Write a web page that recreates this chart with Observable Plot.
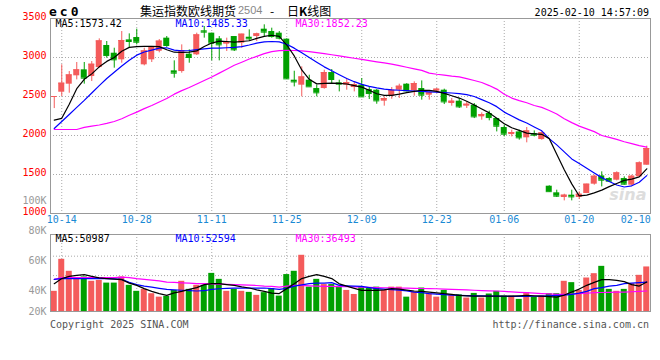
<!DOCTYPE html>
<html><head><meta charset="utf-8">
<script src="https://cdn.jsdelivr.net/npm/d3@7"></script>
<script src="https://cdn.jsdelivr.net/npm/@observablehq/plot@0.6"></script>
<style>
html,body{margin:0;padding:0;background:#fff;}
#wrap{position:relative;width:660px;height:360px;overflow:hidden;background:#fff;font-family:"DejaVu Sans Mono",monospace;}
.abs{position:absolute;white-space:pre;line-height:1;}
#price,#vol{position:absolute;left:0;}
#price{top:0;} #vol{top:227px;}
</style></head><body><div id="wrap">
<div class="abs" style="left:49px;top:4px;font:bold 13px 'DejaVu Sans Mono';letter-spacing:3px;">ec0</div>
<div class="abs" style="left:140px;top:2px;font:12px 'Noto Sans CJK SC';">集运指数欧线期货</div>
<div class="abs" style="left:238px;top:4px;font:11px 'Liberation Sans';color:#888;">2504</div>
<div class="abs" style="left:270px;top:2px;font:12px 'Noto Sans CJK SC';">-</div>
<div class="abs" style="left:287px;top:2px;font:12px 'Noto Sans CJK SC';">日<b>K</b>线图</div>
<div class="abs" style="right:11px;top:7px;font:10px 'DejaVu Sans Mono';">2025-02-10 14:57:09</div>
<div id="price"></div>
<div id="vol"></div>
<div class="abs" style="left:50px;top:319px;font:10px 'DejaVu Sans Mono';color:#555;">Copyright 2025 SINA.COM</div>
<div class="abs" style="right:11px;top:319px;font:10px 'DejaVu Sans Mono';color:#555;">http://finance.sina.com.cn</div>
</div>
<script>
const dates = ["2024-10-11","2024-10-14","2024-10-15","2024-10-16","2024-10-17","2024-10-18","2024-10-21","2024-10-22","2024-10-23","2024-10-24","2024-10-25","2024-10-28","2024-10-29","2024-10-30","2024-10-31",
"2024-11-01","2024-11-04","2024-11-05","2024-11-06","2024-11-07","2024-11-08","2024-11-11","2024-11-12","2024-11-13","2024-11-14","2024-11-15","2024-11-18","2024-11-19","2024-11-20","2024-11-21","2024-11-22","2024-11-25","2024-11-26","2024-11-27","2024-11-28","2024-11-29",
"2024-12-02","2024-12-03","2024-12-04","2024-12-05","2024-12-06","2024-12-09","2024-12-10","2024-12-11","2024-12-12","2024-12-13","2024-12-16","2024-12-17","2024-12-18","2024-12-19","2024-12-20","2024-12-23","2024-12-24","2024-12-25","2024-12-26","2024-12-27","2024-12-30","2024-12-31",
"2025-01-02","2025-01-03","2025-01-06","2025-01-07","2025-01-08","2025-01-09","2025-01-10","2025-01-13","2025-01-14","2025-01-15","2025-01-16","2025-01-17","2025-01-20","2025-01-21","2025-01-22","2025-01-23","2025-01-24","2025-01-27",
"2025-02-05","2025-02-06","2025-02-07","2025-02-10"];
const open  = [2500,2555,2658,2765,2842,2756,2871,3154,3055,2970,3226,3256,2906,2970,3080,3248,2829,2820,3042,3034,3342,3312,3239,3171,3269,3184,3260,3269,3363,3333,3312,3235,2709,2645,2709,2602,2602,2807,2675,2645,2615,2645,2589,2581,2440,2504,2581,2658,2572,2602,2517,2568,2581,2410,2440,2376,2388,2239,2282,2218,2102,2012,2046,1970,2025,1948,1350,1265,1205,1235,1205,1256,1376,1482,1448,1427,1448,1363,1470,1619];
const high  = [2500,2906,2820,2936,2936,2948,3239,3205,3119,3333,3303,3363,3119,3141,3230,3269,2957,3162,3098,3312,3397,3312,3269,3248,3269,3299,3354,3312,3419,3376,3333,3240,2824,2880,2773,2645,2837,2846,2709,2730,2688,2730,2624,2589,2495,2615,2658,2665,2688,2700,2559,2602,2594,2474,2474,2431,2410,2290,2312,2218,2132,2068,2068,2102,2059,2047,1355,1299,1247,1299,1277,1376,1491,1534,1460,1534,1470,1491,1662,1863];
const low   = [2345,2500,2542,2713,2658,2692,2863,2991,2863,2927,3119,3162,2893,2936,3060,3130,2735,2799,2927,3025,3248,2957,2957,3077,3077,3119,3205,3205,3269,3248,3226,2720,2623,2495,2624,2495,2594,2666,2559,2581,2559,2495,2461,2401,2376,2465,2474,2559,2504,2453,2453,2538,2397,2376,2346,2346,2217,2196,2188,2046,1982,1982,1940,1906,1982,1940,1275,1205,1162,1162,1179,1256,1363,1341,1405,1418,1363,1350,1470,1619];
const close = [2500,2671,2777,2842,2735,2914,3213,3025,2970,3218,3205,3196,3085,3141,3210,3154,2799,3089,3000,3290,3325,3184,3162,3192,3098,3299,3239,3303,3325,3269,3248,2726,2687,2751,2624,2547,2807,2718,2658,2679,2653,2495,2538,2444,2474,2581,2632,2572,2666,2517,2547,2594,2431,2440,2367,2401,2239,2269,2230,2119,2017,2038,1970,2059,2004,2034,1280,1222,1235,1213,1247,1376,1478,1427,1414,1521,1376,1478,1649,1833];
const ma5  = [2198,2220,2400,2600,2720,2790,2880,2950,3000,3080,3130,3140,3142,3142,3140,3100,3068,3064,3070,3085,3140,3185,3210,3205,3196,3205,3215,3245,3270,3285,3270,3160,3020,2840,2720,2662,2668,2672,2668,2660,2640,2620,2580,2535,2515,2515,2530,2550,2565,2580,2578,2565,2540,2510,2480,2440,2390,2340,2290,2220,2150,2100,2065,2030,2022,2015,1960,1760,1560,1380,1225,1235,1265,1300,1345,1385,1425,1440,1470,1573];
const ma10 = [2090,2180,2270,2360,2450,2545,2640,2730,2810,2890,2965,3030,3070,3095,3120,3125,3095,3085,3090,3100,3110,3120,3120,3125,3130,3140,3160,3185,3200,3205,3200,3170,3120,3060,3000,2940,2880,2830,2780,2730,2690,2655,2630,2610,2595,2585,2580,2575,2570,2565,2560,2555,2550,2545,2538,2525,2500,2460,2420,2370,2300,2250,2200,2160,2110,2060,1960,1880,1790,1700,1640,1580,1520,1460,1410,1365,1340,1355,1400,1485];
const ma30 = [2077,2077,2077,2077,2105,2120,2135,2155,2180,2215,2260,2300,2345,2385,2430,2475,2530,2575,2615,2660,2705,2750,2800,2850,2900,2940,2980,3015,3050,3075,3088,3092,3090,3086,3075,3062,3050,3035,3020,3005,2990,2975,2960,2945,2930,2915,2895,2875,2855,2835,2800,2785,2775,2762,2752,2730,2705,2680,2640,2595,2530,2480,2448,2420,2385,2360,2320,2275,2215,2165,2120,2085,2050,2000,1975,1950,1920,1895,1870,1852];
const vol  = [39500,60900,52900,48000,49100,46200,46800,45000,45000,49100,43500,39500,40800,37900,35600,36100,40100,46200,40800,43500,43500,51500,47500,39500,40800,39500,38800,36800,38600,41300,36300,50700,52900,63600,42300,47500,44000,44000,42800,40100,37400,42300,41700,42300,40100,42300,42300,35600,39000,41700,37900,35600,40100,37200,37200,35000,38100,35000,37700,39500,36300,36300,34100,38600,35600,36300,37900,37900,46200,45300,40100,48400,51300,56200,40800,39500,40800,44600,50200,55800];
const vma5  = [44600,48000,49500,50200,50700,49500,48500,48000,47600,47300,45000,43500,41300,39500,38000,36800,38500,39500,40800,42000,44000,44600,44600,44000,43500,42500,41700,40500,39500,38300,38000,41300,44500,48000,49500,50700,49500,48000,44500,43000,41500,40100,40100,40100,40500,41300,41000,40300,39700,39500,39000,38500,37900,37500,36800,36500,36300,36300,36300,36300,36300,36300,36500,36800,36500,36300,36000,35600,37000,39000,41000,43500,45500,47300,47300,46800,46000,44000,43000,45700];
const vma10 = [47500,48000,48000,48000,48000,48000,48000,48000,47800,47500,45500,44000,43000,42300,41500,40800,40500,40200,40000,39700,39900,40800,41200,41500,41700,41700,41700,41700,41700,41300,40800,41500,43000,43800,44600,45000,45000,45300,43500,43200,43000,42800,42000,41300,41000,40600,40300,39800,39000,38600,37900,37600,37300,37000,36800,36600,36500,36400,36300,36300,36200,36100,36100,36100,36200,36300,36500,36800,37000,37500,38300,39500,41300,42000,43000,43500,44600,45000,45300,45700];
const vma30 = [47500,48700,48700,48700,48700,48700,48700,48700,48700,49000,48700,48000,47500,47000,46500,45700,45500,45200,45000,44600,44600,44500,44300,44200,44000,43800,43600,43400,43000,42800,42300,43000,43500,43500,43200,43000,42800,42800,42700,42600,42500,42300,42200,42000,41900,41800,41700,41600,41500,41400,41300,41200,41000,40800,40600,40400,40200,40000,39800,39700,39400,39100,38800,38600,38300,38000,37800,37500,37500,37700,37900,38200,38600,38700,38800,38900,39000,39200,39500,39700];
const priceTicks = [1000,1500,2000,2500,3000,3500];
const priceGrid = [1500,2000,2500,3000];
const volTicks = [20000,40000,60000,80000,100000];
const volGrid = [50000,63000];
const gridDates = ["2024-10-14","2024-10-28","2024-11-11","2024-11-25","2024-12-09","2024-12-23","2025-01-06","2025-01-20"];
const lastDate = "2025-02-10";
const priceLabels = ["MA5:1573.42","MA10:1485.33","MA30:1852.23"];
const volLabels = ["MA5:50987","MA10:52594","MA30:36493"];

const RED = "#f45b5b", GREEN = "#00a000";
const rows = dates.map((d,i)=>({date:d, open:open[i], high:high[i], low:low[i], close:close[i],
  ma5:ma5[i], ma10:ma10[i], ma30:ma30[i], vol:vol[i], vma5:vma5[i], vma10:vma10[i], vma30:vma30[i]}));
const col = d => d.close >= d.open ? RED : GREEN;
const mono = "DejaVu Sans Mono";
const xScale = {type:"band", domain:dates, paddingInner:0.2, paddingOuter:0.1, axis:null};
const dot = {stroke:"#aaa", strokeDasharray:"1,2"};
const maColors = ["#000","#0000ff","#ff00ff"];
const labelOffsets = [5,125,245];
const maLabelMarks = (labels, dy) => labels.map((t,i)=>
  Plot.text([t], {frameAnchor:"top-left", textAnchor:"start", lineAnchor:"middle", dx:labelOffsets[i], dy, text:d=>d, fill:maColors[i]}));

const price = Plot.plot({
  width:660, height:227, marginLeft:50, marginRight:10, marginTop:18, marginBottom:14,
  x: xScale, y:{domain:[1000,3500], axis:null},
  style:{fontFamily:mono, fontSize:"10px", overflow:"visible", background:"transparent"},
  marks:[
    Plot.ruleY(priceGrid, dot),
    Plot.ruleX(gridDates, {x:d=>d, ...dot}),
    Plot.text(["sina"], {frameAnchor:"bottom-right", dx:-4, dy:-14, text:d=>d, fill:"#ddd", fontSize:16, fontWeight:"bold", fontStyle:"italic", fontFamily:"DejaVu Sans"}),
    Plot.ruleX(rows, {x:"date", y1:"low", y2:"high", stroke:col}),
    Plot.barY(rows, {x:"date", y1:"open", y2:"close", fill:col}),
    Plot.tickY(rows, {x:"date", y:"close", stroke:col}),
    Plot.line(rows, {x:"date", y:"ma30", stroke:maColors[2], strokeWidth:1.2}),
    Plot.line(rows, {x:"date", y:"ma10", stroke:maColors[1], strokeWidth:1.2}),
    Plot.line(rows, {x:"date", y:"ma5", stroke:maColors[0], strokeWidth:1.2}),
    Plot.frame({stroke:"#999"}),
    Plot.text(priceTicks, {y:d=>d, text:d=>String(d), frameAnchor:"left", textAnchor:"end", dx:-4, dy:-2, fill:"#f00"}),
    Plot.text(gridDates, {x:d=>d, text:d=>d.slice(5), frameAnchor:"bottom", dy:9, fill:"#1a8ad4"}),
    Plot.text([lastDate], {x:d=>d, text:d=>d.slice(5), frameAnchor:"bottom", textAnchor:"end", dx:4, dy:9, fill:"#1a8ad4"}),
    ...maLabelMarks(priceLabels, 5.7)
  ]
});
document.getElementById("price").append(price);

const volDomain = [26000, 77500];
const vplot = Plot.plot({
  width:660, height:113, marginLeft:50, marginRight:10, marginTop:7, marginBottom:29,
  x: xScale, y:{domain:volDomain, axis:null},
  style:{fontFamily:mono, fontSize:"10px", overflow:"visible", background:"transparent"},
  marks:[
    Plot.ruleY(volGrid, dot),
    Plot.ruleX(gridDates, {x:d=>d, ...dot}),
    Plot.barY(rows, {x:"date", y:"vol", fill:col, clip:true}),
    Plot.line(rows, {x:"date", y:"vma30", stroke:maColors[2], strokeWidth:1.2}),
    Plot.line(rows, {x:"date", y:"vma10", stroke:maColors[1], strokeWidth:1.2}),
    Plot.line(rows, {x:"date", y:"vma5", stroke:maColors[0], strokeWidth:1.2}),
    Plot.frame({stroke:"#999"}),
    Plot.text(volTicks, {y:d=>Math.max(d, volDomain[0]), text:d=>(d/1000)+"K", frameAnchor:"left", textAnchor:"end", dx:-4, fill:"#999"}),
    ...maLabelMarks(volLabels, 4.5)
  ]
});
document.getElementById("vol").append(vplot);
</script>
</body></html>
